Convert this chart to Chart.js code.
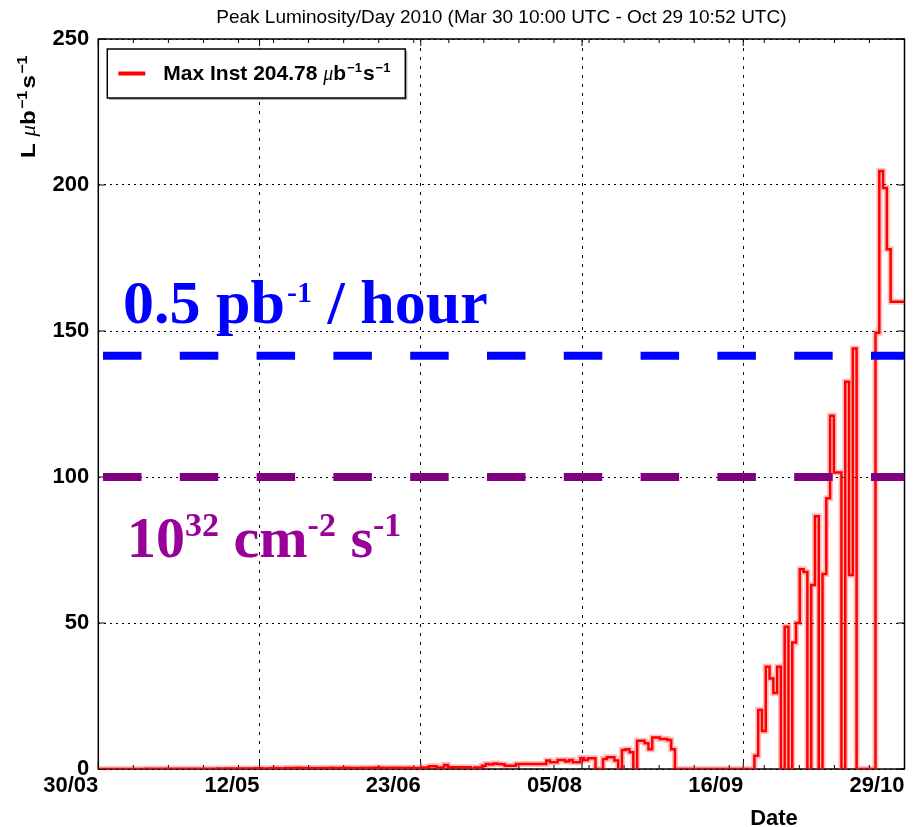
<!DOCTYPE html>
<html lang="en">
<head>
<meta charset="UTF-8">
<title>Peak Luminosity/Day 2010</title>
<script src="https://cdn.jsdelivr.net/npm/chart.js"></script>
<style>
  html, body { margin: 0; padding: 0; background: #fff; }
  #wrap { width: 913px; height: 827px; }
</style>
</head>
<body>
<div id="wrap"><canvas id="lumiChart" width="913" height="827"></canvas></div>
<script>
// range given in the title
const rangeStart = '2010-03-30T10:00:00Z';
const rangeEnd = '2010-10-29T10:52:00Z';
const firstDay = '2010-03-30';
const binStartHour = 19; // daily bins start in the evening

// peak instantaneous luminosity per day (ub^-1 s^-1), day 0 = 30/03
const dailyPeak = [
  0, 0, 0, 0, 0, 0, 0, 0, 0, 0,
  0.02, 0.03, 0.03, 0.05, 0.05, 0.04, 0.06, 0.06, 0.05, 0.07,
  0.08, 0.08, 0.07, 0.1, 0.1, 0.09, 0.1, 0.12, 0.1, 0.1,
  0.12, 0.12, 0.15, 0.1, 0.15, 0.18, 0.2, 0.15, 0.2, 0.2,
  0.15, 0.2, 0.22, 0.25, 0.2, 0.2, 0.25, 0.3, 0.25, 0.2,
  0.3, 0.35, 0.3, 0.4, 0.3, 0.3, 0.35, 0.3, 0.25, 0.3,
  0.3, 0.35, 0.4, 0.35, 0.3, 0.45, 0.4, 0.35, 0.3, 0.35,
  0.4, 0.35, 0.4, 0.45, 0.5, 0.4, 0.35, 0.4, 0.4, 0.45,
  0.4, 0.35, 0.4, 0.3, 0.3, 0.3, 0.5, 0.5, 0.9, 0.9,
  0.5, 0.5, 1.4, 0.6, 0.6, 0.6, 0.6, 0.6, 0.6, 0.2,
  0.5, 0.5, 1.1, 1.7, 1.5, 1.9, 1.7, 1.6, 1.1, 1.1,
  1.1, 1.7, 1.7, 1.7, 1.7, 1.7, 1.7, 1.7, 1.7, 2.9,
  2.3, 2.3, 3.1, 3.1, 2.6, 3.1, 2.3, 2.3, 3.8, 3.1,
  3.7, 3.7, 0, 0, 3.4, 4, 4, 2.9, 0, 6.5,
  6.8, 5.7, 0, 9.7, 9.7, 8.8, 6.8, 10.8, 10.8, 10.3,
  10.3, 9.9, 6.8, 0, 0, 0, 0, 0, 0, 0,
  0, 0, 0, 0, 0, 0, 0, 0, 0, 0,
  0, 0, 0, 0, 4.5, 20.2, 13, 35, 31, 26,
  35, 0, 48.7, 0, 43.3, 50, 68.4, 67.5, 0, 63,
  86.6, 0, 66.8, 92.7, 121, 101.5, 101.5, 0, 132.6, 66.4,
  144, 0, 0, 0, 0, 0, 149.4, 204.8, 199, 178,
  160, 160, 160
];

const yTicks = [0, 50, 100, 150, 200, 250];
const majorCount = 5;   // labelled date ticks
const minorCount = 23;  // small ticks along top/bottom
const refLevels = [141.5, 100]; // 0.5 pb^-1/hour and 1e32 cm^-2 s^-1

const titleText = 'Peak Luminosity/Day 2010 (Mar 30 10:00 UTC - Oct 29 10:52 UTC)';
const legendText = 'Max Inst 204.78 ';

const DAY = 86400000;
const t0 = Date.parse(firstDay + 'T00:00:00Z');
const xMin = (Date.parse(rangeStart) - t0) / DAY;
const xMax = (Date.parse(rangeEnd) - t0) / DAY;

function dayLabel(v) {
    const d = new Date(t0 + v * DAY);
    const dd = String(d.getUTCDate()).padStart(2, '0');
    const mm = String(d.getUTCMonth() + 1).padStart(2, '0');
    return dd + '/' + mm;
}

// stepped series: each daily value holds until the next bin
const lumiPoints = [{ x: xMin, y: dailyPeak[0] }];
dailyPeak.forEach((v, i) => lumiPoints.push({ x: i + binStartHour / 24, y: v }));
lumiPoints.push({ x: xMax, y: dailyPeak[dailyPeak.length - 1] });

function flatLine(y) {
    return [{ x: xMin, y: y }, { x: xMax, y: y }];
}

// draws a run of text pieces (for superscripts), returns end x
function drawRuns(ctx, runs, x, y) {
    for (const r of runs) {
        x += r.before || 0;
        ctx.font = r.font;
        ctx.fillStyle = r.color || '#000';
        ctx.fillText(r.text, x, y - (r.rise || 0));
        x += ctx.measureText(r.text).width;
    }
    return x;
}

const SANS = '"Liberation Sans", sans-serif';
const SERIF = '"Liberation Serif", serif';

const decor = {
    id: 'decor',
    beforeDraw(chart) {
        const ctx = chart.ctx;
        ctx.save();
        ctx.fillStyle = '#fff';
        ctx.fillRect(0, 0, chart.width, chart.height);
        ctx.restore();
    },
    beforeDatasetsDraw(chart) {
        const { ctx, chartArea: a, scales } = chart;
        ctx.save();
        ctx.strokeStyle = '#000';
        ctx.lineWidth = 1.5;
        ctx.strokeRect(a.left, a.top, a.right - a.left, a.bottom - a.top);
        ctx.lineWidth = 1;
        ctx.beginPath();
        // minor ticks, inside, top and bottom
        for (let k = 1; k < minorCount; k++) {
            const px = scales.x.getPixelForValue(xMin + k * (xMax - xMin) / minorCount);
            ctx.moveTo(px, a.bottom); ctx.lineTo(px, a.bottom - 4);
            ctx.moveTo(px, a.top); ctx.lineTo(px, a.top + 4);
        }
        // major ticks
        scales.x.ticks.forEach(t => {
            const px = scales.x.getPixelForValue(t.value);
            ctx.moveTo(px, a.bottom); ctx.lineTo(px, a.bottom - 7);
            ctx.moveTo(px, a.top); ctx.lineTo(px, a.top + 7);
        });
        scales.y.ticks.forEach(t => {
            const py = scales.y.getPixelForValue(t.value);
            ctx.moveTo(a.left, py); ctx.lineTo(a.left + 7, py);
            ctx.moveTo(a.right, py); ctx.lineTo(a.right - 7, py);
        });
        ctx.stroke();
        ctx.restore();
    },
    afterDraw(chart) {
        const { ctx, chartArea: a, scales } = chart;
        ctx.save();
        ctx.textBaseline = 'alphabetic';

        // title
        ctx.fillStyle = '#000';
        ctx.font = '19px ' + SANS;
        ctx.textAlign = 'center';
        ctx.fillText(titleText, (a.left + a.right) / 2, 23);

        // x axis label
        ctx.font = 'bold 22px ' + SANS;
        ctx.fillText('Date', 774, 825);
        ctx.textAlign = 'left';

        // y axis label, rotated
        ctx.save();
        ctx.translate(35, 158);
        ctx.rotate(-Math.PI / 2);
        ctx.scale(1.15, 1);
        drawRuns(ctx, [
            { text: 'L ', font: 'bold 21px ' + SANS },
            { text: 'μ', font: 'italic 20px ' + SERIF },
            { text: 'b', font: 'bold 21px ' + SANS },
            { text: '−1', font: 'bold 14px ' + SANS, rise: 8, before: 1 },
            { text: 's', font: 'bold 21px ' + SANS, before: 2 },
            { text: '−1', font: 'bold 14px ' + SANS, rise: 8, before: 1 }
        ], 0, 0);
        ctx.restore();

        // legend box
        const lx = a.left + 9, ly = a.top + 10, lw = 298, lh = 49;
        ctx.fillStyle = '#aaa';
        ctx.fillRect(lx + 2, ly + 2, lw, lh);
        ctx.fillStyle = '#fff';
        ctx.fillRect(lx, ly, lw, lh);
        ctx.strokeStyle = '#000';
        ctx.lineWidth = 1.5;
        ctx.strokeRect(lx, ly, lw, lh);
        ctx.strokeStyle = '#ff0000';
        ctx.lineWidth = 4;
        ctx.beginPath();
        ctx.moveTo(lx + 11, ly + 24.5);
        ctx.lineTo(lx + 38, ly + 24.5);
        ctx.stroke();
        drawRuns(ctx, [
            { text: legendText, font: 'bold 21px ' + SANS },
            { text: 'μ', font: 'italic 20px ' + SERIF },
            { text: 'b', font: 'bold 21px ' + SANS },
            { text: '−1', font: 'bold 13px ' + SANS, rise: 8, before: 1 },
            { text: 's', font: 'bold 21px ' + SANS, before: 1 },
            { text: '−1', font: 'bold 13px ' + SANS, rise: 8, before: 1 }
        ], lx + 56, ly + 30.5);

        // notes on the reference levels
        const blue = '#0000ff', purple = '#990099';
        drawRuns(ctx, [
            { text: '0.5 pb', font: 'bold 62px ' + SERIF, color: blue },
            { text: '-1', font: 'bold 30px ' + SERIF, color: blue, rise: 21, before: 2 },
            { text: ' / hour', font: 'bold 62px ' + SERIF, color: blue }
        ], 123, 323);
        drawRuns(ctx, [
            { text: '10', font: 'bold 58px ' + SERIF, color: purple },
            { text: '32', font: 'bold 34px ' + SERIF, color: purple, rise: 21 },
            { text: ' cm', font: 'bold 58px ' + SERIF, color: purple },
            { text: '-2', font: 'bold 34px ' + SERIF, color: purple, rise: 21 },
            { text: ' s', font: 'bold 58px ' + SERIF, color: purple },
            { text: '-1', font: 'bold 34px ' + SERIF, color: purple, rise: 21 }
        ], 127, 557);

        ctx.restore();
    }
};

Chart.defaults.font.family = SANS;
Chart.defaults.color = '#000';

new Chart(document.getElementById('lumiChart'), {
    type: 'line',
    data: {
        datasets: [
            {
                label: '0.5 pb-1 / hour',
                data: flatLine(refLevels[0]),
                borderColor: '#0000ff',
                borderWidth: 8,
                borderDash: [38.5, 38.3],
                borderDashOffset: -4.7,
                borderCapStyle: 'butt',
                pointRadius: 0
            },
            {
                label: '1e32 cm-2 s-1',
                data: flatLine(refLevels[1]),
                borderColor: '#800080',
                borderWidth: 8,
                borderDash: [38.5, 38.3],
                borderDashOffset: -4.7,
                borderCapStyle: 'butt',
                pointRadius: 0
            },
            {
                label: legendText,
                data: lumiPoints,
                borderColor: '#ff0000',
                borderWidth: 2.5,
                borderJoinStyle: 'miter',
                stepped: 'after',
                pointRadius: 0
            },
            {
                label: 'halo',
                data: lumiPoints,
                borderColor: 'rgba(255,0,0,0.25)',
                borderWidth: 6,
                stepped: 'after',
                pointRadius: 0
            }
        ]
    },
    options: {
        responsive: false,
        animation: false,
        layout: { padding: { top: 39, right: 8.5, left: 0, bottom: 0 } },
        plugins: {
            legend: { display: false },
            title: { display: false },
            tooltip: { enabled: false }
        },
        scales: {
            x: {
                type: 'linear',
                min: xMin,
                max: xMax,
                afterBuildTicks: s => {
                    s.ticks = Array.from({ length: majorCount + 1 },
                        (_, k) => ({ value: xMin + k * (xMax - xMin) / majorCount }));
                },
                afterFit: s => { s.height = 58; },
                ticks: {
                    autoSkip: false,
                    maxRotation: 0,
                    align: 'end',
                    padding: 4,
                    font: { size: 22, weight: 'bold' },
                    callback: v => dayLabel(v)
                },
                grid: { color: '#000', lineWidth: 1, drawTicks: false },
                border: { display: false, dash: [3, 6] }
            },
            y: {
                min: 0,
                max: 250,
                afterBuildTicks: s => { s.ticks = yTicks.map(v => ({ value: v })); },
                afterFit: s => { s.width = 98.3; },
                ticks: {
                    padding: 9,
                    font: { size: 22, weight: 'bold' }
                },
                grid: { color: '#000', lineWidth: 1, drawTicks: false },
                border: { display: false, dash: [2, 4] }
            }
        }
    },
    plugins: [decor]
});
</script>
</body>
</html>
